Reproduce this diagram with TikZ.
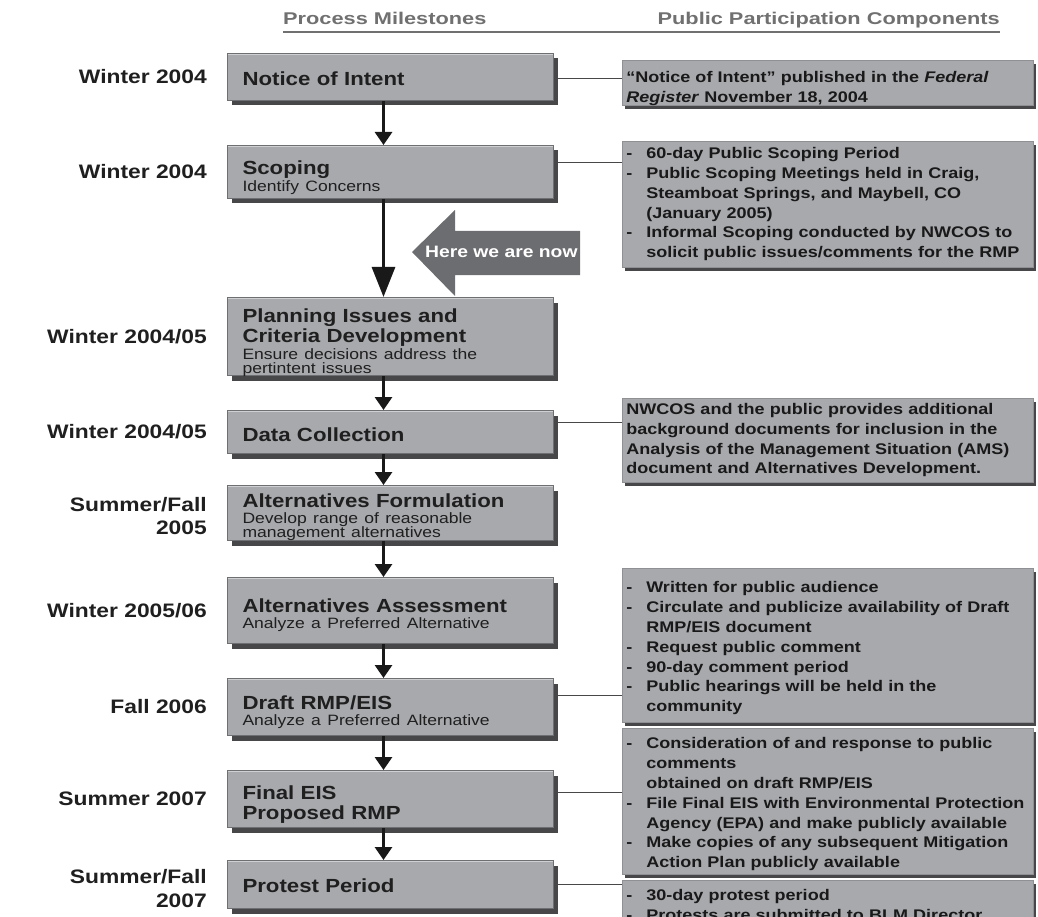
\documentclass[tikz,border=0pt]{standalone}
\usepackage{fontspec}
\setmainfont[FakeStretch=1.17]{Liberation Sans}
\newfontfamily\headfont[FakeStretch=1.28]{Liberation Sans}
\usetikzlibrary{positioning}
\usetikzlibrary{arrows.meta}
\usetikzlibrary{shadows}

\definecolor{boxgray}{HTML}{A8A9AD}
\definecolor{edgegray}{HTML}{6E6F72}
\definecolor{shadegray}{HTML}{47474A}
\definecolor{headgray}{HTML}{707070}
\definecolor{nowgray}{HTML}{6C6D70}

\newcommand{\sbt}[1]{\par\vspace{1pt}\fontsize{15}{14.5}\selectfont\mdseries #1\par}
\newcommand{\itm}{\makebox[20pt][l]{-}}
\newcommand{\cnt}{\hspace*{20pt}}

\begin{document}
\begin{tikzpicture}[x=1pt,y=-1pt]
	\tikzset{
		milestone/.style={rectangle, draw=edgegray, line width=1pt, fill=boxgray, text width=296pt, inner xsep=15pt, inner ysep=2pt, align=left, text height=20pt, text=black!88, font={\fontsize{19}{20}\selectfont\bfseries}, drop shadow={shadow xshift=4pt, shadow yshift=-5pt, fill=shadegray, opacity=1}, path picture={\draw[white!45!boxgray, line width=3pt] (path picture bounding box.north west) -- (path picture bounding box.north east);}},
		partbox/.style={rectangle, draw=boxgray!85!black, line width=0.6pt, fill=boxgray, text width=403pt, inner xsep=4pt, inner ysep=2pt, align=left, text=black!90, font={\fontsize{15.4}{19.8}\selectfont\bfseries}, drop shadow={shadow xshift=3pt, shadow yshift=-4pt, fill=shadegray, opacity=1}},
		datenode/.style={inner sep=0pt, align=right, text=black!88, font={\fontsize{19.5}{23.5}\selectfont\bfseries}},
		headnode/.style={inner sep=0pt, text=headgray, font={\fontsize{17}{20}\headfont\bfseries}},
		flow/.style={-{Triangle[width=17pt,length=13pt]}, line width=3pt, black!90},
		bigflow/.style={-{Triangle[width=23pt,length=30pt]}, line width=3pt, black!90},
		link/.style={draw=shadegray, line width=1.6pt},
		nowtext/.style={inner sep=0pt, text=white, font={\fontsize{16.5}{18}\selectfont\bfseries}},
	}
	\useasboundingbox (0,0) rectangle (1038,917);
	\clip (0,0) rectangle (1038,917);

	\node[headnode, anchor=base west] (hpm) at (283,25) {Process Milestones};
	\node[headnode, anchor=base east] (hpc) at (1000,25) {Public Participation Components};
	\draw[headgray, line width=1.8pt] ([yshift=-7pt]hpm.base west) -- ([yshift=-7pt]hpc.base east);

	\node[milestone, minimum height=47pt, text depth=3pt, anchor=north west] (noi) at (227,53) {Notice of Intent};
	\node[milestone, minimum height=53pt, text depth=15pt, below=44pt of noi] (scop) {Scoping\sbt{Identify Concerns}};
	\node[milestone, minimum height=78pt, text depth=48pt, below=98pt of scop] (plan) {Planning Issues and\\Criteria Development\sbt{Ensure decisions address the\\pertintent issues}};
	\node[milestone, minimum height=43pt, text depth=1pt, below=34pt of plan] (data) {Data Collection};
	\node[milestone, minimum height=55pt, text depth=31pt, below=31pt of data] (altf) {Alternatives Formulation\sbt{Develop range of reasonable\\management alternatives}};
	\node[milestone, minimum height=66pt, text depth=16pt, below=36pt of altf] (alta) {Alternatives Assessment\sbt{Analyze a Preferred Alternative}};
	\node[milestone, minimum height=57pt, text depth=15pt, below=34pt of alta] (draft) {Draft RMP/EIS\sbt{Analyze a Preferred Alternative}};
	\node[milestone, minimum height=57pt, text depth=19pt, below=34pt of draft] (final) {Final EIS\\Proposed RMP};
	\node[milestone, minimum height=48pt, text depth=4pt, below=32pt of final] (prot) {Protest Period};

	\node[datenode, left=20pt of noi] (dnoi) {Winter 2004};
	\node[datenode, left=20pt of scop] (dscop) {Winter 2004};
	\node[datenode, left=20pt of plan] (dplan) {Winter 2004/05};
	\node[datenode, left=20pt of data] (ddata) {Winter 2004/05};
	\node[datenode, left=20pt of altf, yshift=-3pt] (daltf) {Summer/Fall\\2005};
	\node[datenode, left=20pt of alta] (dalta) {Winter 2005/06};
	\node[datenode, left=20pt of draft] (ddraft) {Fall 2006};
	\node[datenode, left=20pt of final] (dfinal) {Summer 2007};
	\node[datenode, left=20pt of prot, yshift=-4pt] (dprot) {Summer/Fall\\2007};

	\draw[flow] ([xshift=-7pt]noi.south) -- ([xshift=-7pt]scop.north);
	\draw[bigflow] ([xshift=-7pt]scop.south) -- ([xshift=-7pt]plan.north);
	\draw[flow] ([xshift=-7pt]plan.south) -- ([xshift=-7pt]data.north);
	\draw[flow] ([xshift=-7pt]data.south) -- ([xshift=-7pt]altf.north);
	\draw[flow] ([xshift=-7pt]altf.south) -- ([xshift=-7pt]alta.north);
	\draw[flow] ([xshift=-7pt]alta.south) -- ([xshift=-7pt]draft.north);
	\draw[flow] ([xshift=-7pt]draft.south) -- ([xshift=-7pt]final.north);
	\draw[flow] ([xshift=-7pt]final.south) -- ([xshift=-7pt]prot.north);

	\coordinate (now) at (412,252);
	\fill[nowgray] (now) -- ++(43,-42) -- ++(0,21) -- ++(125,0) -- ++(0,44) -- ++(-125,0) -- ++(0,21) -- cycle;
	\node[nowtext, right=13pt of now] (nowlabel) {Here we are now};

	\node[partbox, minimum height=45pt, text height=18pt, text depth=18pt, anchor=north west] (pc1) at (622,60) {“Notice of Intent” published in the \textit{Federal}\\\textit{Register} November 18, 2004};
	\node[partbox, minimum height=126pt, anchor=north west] (pc2) at (622,141) {\itm 60-day Public Scoping Period\\
		\itm Public Scoping Meetings held in Craig,\\
		\cnt Steamboat Springs, and Maybell, CO\\
		\cnt (January 2005)\\
		\itm Informal Scoping conducted by NWCOS to\\
		\cnt solicit public issues/comments for the RMP};
	\node[partbox, minimum height=84pt, anchor=north west] (pc3) at (622,398) {NWCOS and the public provides additional\\
		background documents for inclusion in the\\
		Analysis of the Management Situation (AMS)\\
		document and Alternatives Development.};
	\node[partbox, minimum height=154pt, text height=16pt, text depth=121pt, anchor=north west] (pc4) at (622,568) {\itm Written for public audience\\
		\itm Circulate and publicize availability of Draft\\
		\cnt RMP/EIS document\\
		\itm Request public comment\\
		\itm 90-day comment period\\
		\itm Public hearings will be held in the\\
		\cnt community};
	\node[partbox, minimum height=146pt, text height=16pt, text depth=121pt, anchor=north west] (pc5) at (622,728) {\itm Consideration of and response to public\\
		\cnt comments\\
		\cnt obtained on draft RMP/EIS\\
		\itm File Final EIS with Environmental Protection\\
		\cnt Agency (EPA) and make publicly available\\
		\itm Make copies of any subsequent Mitigation\\
		\cnt Action Plan publicly available};
	\node[partbox, minimum height=50pt, anchor=north west] (pc6) at (622,880) {\itm 30-day protest period\\
		\itm Protests are submitted to BLM Director};

	\draw[link] ([xshift=4pt,yshift=-1.5pt]noi.east) -- ([yshift=-1.5pt]noi.east -| pc1.west);
	\draw[link] ([xshift=4pt,yshift=9.5pt]scop.east) -- ([yshift=9.5pt]scop.east -| pc2.west);
	\draw[link] ([xshift=4pt,yshift=9.5pt]data.east) -- ([yshift=9.5pt]data.east -| pc3.west);
	\draw[link] ([xshift=4pt,yshift=11.5pt]draft.east) -- ([yshift=11.5pt]draft.east -| pc4.west);
	\draw[link] ([xshift=4pt,yshift=6.5pt]final.east) -- ([yshift=6.5pt]final.east -| pc5.west);
	\draw[link] ([xshift=4pt]prot.east) -- (prot.east -| pc6.west);
\end{tikzpicture}
\end{document}
